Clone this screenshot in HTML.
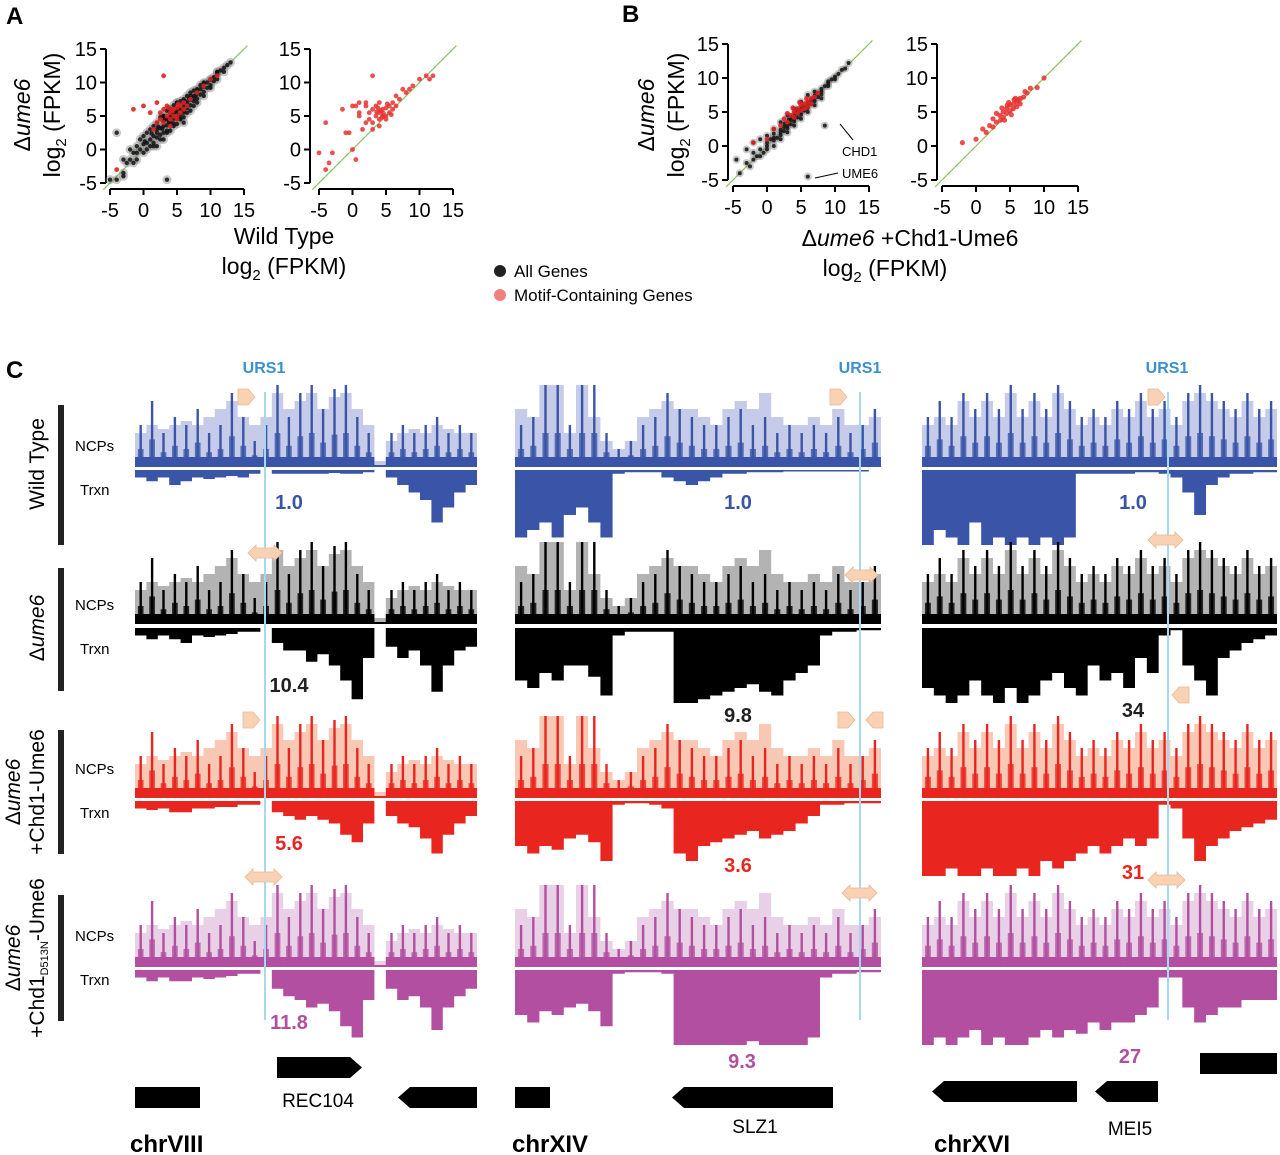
<!DOCTYPE html>
<html><head><meta charset="utf-8">
<style>
body{margin:0;background:#fff;}
svg{display:block;font-family:"Liberation Sans",Arial,sans-serif;}
</style></head>
<body>
<svg id="fig" width="1280" height="1155" viewBox="0 0 1280 1155">
<g id="static">
  <text x="6" y="24" font-size="24" font-weight="bold">A</text>
  <text x="622" y="22" font-size="24" font-weight="bold">B</text>
  <text x="6" y="378" font-size="24" font-weight="bold">C</text>

  <text transform="translate(30,115) rotate(-90)" font-size="23" text-anchor="middle">Δ<tspan font-style="italic">ume6</tspan></text>
  <text transform="translate(60,115) rotate(-90)" font-size="23" text-anchor="middle">log<tspan font-size="15" dy="6">2</tspan><tspan dy="-6"> (FPKM)</tspan></text>
  <text x="284" y="244" font-size="23" text-anchor="middle">Wild Type</text>
  <text x="284" y="274" font-size="23" text-anchor="middle">log<tspan font-size="15" dy="6">2</tspan><tspan dy="-6"> (FPKM)</tspan></text>

  <text transform="translate(654,115) rotate(-90)" font-size="23" text-anchor="middle">Δ<tspan font-style="italic">ume6</tspan></text>
  <text transform="translate(684,115) rotate(-90)" font-size="23" text-anchor="middle">log<tspan font-size="15" dy="6">2</tspan><tspan dy="-6"> (FPKM)</tspan></text>
  <text x="910" y="246" font-size="23" text-anchor="middle">Δ<tspan font-style="italic">ume6</tspan> +Chd1-Ume6</text>
  <text x="885" y="276" font-size="23" text-anchor="middle">log<tspan font-size="15" dy="6">2</tspan><tspan dy="-6"> (FPKM)</tspan></text>
  <line x1="840" y1="124" x2="853" y2="140" stroke="#000" stroke-width="1"/>
  <text x="842" y="156" font-size="13">CHD1</text>
  <line x1="815" y1="178" x2="838" y2="173" stroke="#000" stroke-width="1"/>
  <text x="842" y="178" font-size="13">UME6</text>

  <g>
    <circle cx="500" cy="271" r="6" fill="#222"/>
    <text x="514" y="277" font-size="17">All Genes</text>
    <circle cx="500" cy="295" r="6" fill="#f08080"/>
    <text x="514" y="301" font-size="17">Motif-Containing Genes</text>
  </g>

  <rect x="58" y="405" width="6" height="140" fill="#222"/>
  <rect x="58" y="568" width="6" height="123" fill="#222"/>
  <rect x="58" y="730" width="6" height="124" fill="#222"/>
  <rect x="58" y="895" width="6" height="126" fill="#222"/>
  <text transform="translate(44,464) rotate(-90)" font-size="21" text-anchor="middle">Wild Type</text>
  <text transform="translate(44,628) rotate(-90)" font-size="21" text-anchor="middle">Δ<tspan font-style="italic">ume6</tspan></text>
  <text transform="translate(20,792) rotate(-90)" font-size="21" text-anchor="middle">Δ<tspan font-style="italic">ume6</tspan></text>
  <text transform="translate(44,792) rotate(-90)" font-size="21" text-anchor="middle">+Chd1-Ume6</text>
  <text transform="translate(20,958) rotate(-90)" font-size="21" text-anchor="middle">Δ<tspan font-style="italic">ume6</tspan></text>
  <text transform="translate(44,958) rotate(-90)" font-size="21" text-anchor="middle">+Chd1<tspan font-size="11" dy="4">D513N</tspan><tspan dy="-4">-Ume6</tspan></text>
  <g font-size="15">
    <text x="75" y="451">NCPs</text><text x="80" y="495">Trxn</text>
    <text x="75" y="610">NCPs</text><text x="80" y="654">Trxn</text>
    <text x="75" y="774">NCPs</text><text x="80" y="818">Trxn</text>
    <text x="75" y="941">NCPs</text><text x="80" y="985">Trxn</text>
  </g>
  <g font-size="16" font-weight="bold" fill="#3b8fd0" text-anchor="middle">
    <text x="264" y="373">URS1</text><text x="860" y="373">URS1</text><text x="1167" y="373">URS1</text>
  </g>
</g>
<g id="scatters"></g>
<g id="tracks"></g>
<g id="overlay"></g>
</svg>
<script>
const allGenesA = [[-4,-4.5],[-3,-3.5],[-2.5,-2],[-2,-1.5],[-1.5,-2],[-1,-0.5],[-1,-1.5],[-0.5,0],[0,-0.5],[0,0.8],[0.5,1],[0.5,0],[1,1.5],[1,0.5],[1.5,2],[1.5,1],[2,2.5],[2,1.8],[2,3],[2.5,2.2],[2.5,3.2],[3,3.5],[3,2.5],[3,4.2],[3.5,3.6],[3.5,4.5],[3.5,2.8],[4,4.8],[4,3.8],[4,4.2],[4,5.5],[4.5,4.6],[4.5,5.2],[4.5,3.9],[5,5.4],[5,4.6],[5,6],[5,5],[5.5,6],[5.5,5.2],[5.5,4.6],[6,6.4],[6,5.5],[6,6.8],[6,5.8],[6.5,7],[6.5,6.2],[6.5,6.6],[7,7.4],[7,6.6],[7,8],[7.5,8],[7.5,7.2],[7.5,7.6],[8,8.4],[8,7.6],[8,8.8],[8.5,9],[8.5,8.2],[9,9.4],[9,8.6],[9,9.8],[9.5,10],[9.5,9.2],[10,10.4],[10,9.6],[10.5,10.8],[10.5,10.2],[11,11.2],[11,11.6],[11.5,11.8],[12,12.2],[12,11.6],[12.5,12.6],[13,13],[-3,-1.5],[-1,0.5],[0,2],[1,3],[2,4],[3,5],[4,6],[5,7],[6,7.5],[7,8.5],[8,9],[9,10],[10,10.5],[11,11.5],[1.5,0.5],[2.5,1.5],[3.5,2.5],[4.5,3.5],[5.5,4.5],[6.5,5.5],[7.5,6.5],[3,5],[4,6],[5,7],[6,4],[3.5,-4.5],[-4,2.5],[-3,-4],[-5,-4.5],[2.2,3.4],[3.2,4.6],[4.2,5.2],[5.2,6.2],[6.2,7.2],[2.8,3.1],[3.8,4.1],[4.8,5.8],[5.8,6.1],[6.8,7.6],[7.8,8.1],[1.2,2.4],[0.2,1.2],[-2,0],[-1.5,-0.5],[-0.5,1.5],[0.5,2.5],[1.5,3.5],[2.5,4.8],[3.5,5.8],[4.5,6.6],[5.5,7.2],[6.5,8],[7.5,8.8],[8.5,9.6],[2,0.5],[3,1.5],[4,2.8],[5,3.8],[6,4.8],[7,5.8],[8,7],[9,8],[10,9.2],[11,10.5]];
const motifA = [[-1.5,6],[0,6.5],[1,5.5],[2,7],[2.5,5.5],[3,6],[3.5,5],[3.5,6.5],[4,5.5],[4,4.5],[4.5,6],[4.5,5],[5,6.2],[5,5],[5.5,6.5],[5.5,5.5],[6,7],[6,6],[6.5,6.5],[7,7.5],[3,11],[2,4],[1.5,3],[4,3.5],[5,4.5],[8,8.5],[9,9.5],[10,10.5],[11,11],[-4,-3],[3,4],[2.5,4.5],[4.2,5.8],[3.8,6.2],[5.2,6.8],[-5,-0.5],[-4,4],[-3,-0.5],[-3.5,-2],[-1,2.5],[-0.5,2.5],[0.5,-1.5],[0,0],[1,7],[0.5,6.5],[4.6,5.4],[4.4,4.8],[3.6,5.6],[5.8,5.2],[6.5,8],[7.5,9],[8.5,9],[12,11],[11.5,10.5],[3,3],[4,7],[2,6.5],[1,5]];
const allGenesB = [[-4,-4],[-3,-2.5],[-2.5,-3],[-2,-1],[-1.5,-1.5],[-1,-0.5],[-0.5,-1],[0,0.5],[0,-0.5],[0.5,1],[1,0.8],[1,1.8],[1.5,1.2],[2,2.4],[2,1.6],[2.5,2.8],[2.5,2.2],[3,3.4],[3,2.6],[3.5,3.8],[3.5,3.2],[4,4.4],[4,3.6],[4.5,4.8],[4.5,4.2],[5,5.4],[5,4.6],[5.5,5.8],[5.5,5.2],[6,6.4],[6,5.6],[6.5,6.8],[6.5,6.2],[7,7.4],[7,6.6],[7.5,7.8],[7.5,7.2],[8,8.4],[8,7.6],[8.5,8.8],[9,9.2],[9,8.8],[9.5,9.8],[10,10.2],[10.5,10.6],[11,11.2],[11.5,11.4],[12,12.2],[-3,-0.5],[-2,0.5],[-1,1],[0,1.5],[1,2.5],[2,3.5],[3,4.5],[4,5.5],[5,6.5],[6,7.5],[7,8],[1,0],[2,1],[3,2],[4,3],[5,4],[6,5],[7,6],[8,7],[8.5,3],[6,-4.5],[-4.5,-2],[3.2,3.9],[4.2,4.9],[5.2,5.9],[2.6,3.3],[3.6,4.3],[4.6,5.3],[-2,-2],[-1,-1.5],[0,0],[1,1.2],[2,2],[3,3],[4,4],[5,5],[6,6],[7,7],[8,8],[9,9.5],[10,9.8]];
const motifB = [[-2,0.5],[0,1],[1,2.5],[2,3],[2.5,4],[3,3.5],[3.5,4.5],[4,5],[4,4.2],[4.5,5.5],[4.5,4.8],[5,6],[5,5.2],[5.5,6.2],[5.5,5.5],[6,6.5],[6,5.8],[6.5,7],[6.5,6.2],[7,7.2],[3.8,5.6],[4.8,6.4],[5.8,7],[3,4.8],[7.5,7.8],[8,8.5],[9,8.6],[10,10],[1.5,2],[2.5,2.8],[5.2,4.6],[4.2,3.8],[6.2,6.8],[5.6,6.8],[4.6,6],[3.6,3.8],[7.2,8]];
const axisTicks = [-5,0,5,10,15];
const tickLabels = ["-5","0","5","10","15"];

const ncpEnv1 = [.4,.5,.45,.5,.55,.5,.6,.7,.8,.6,.5,.6,.9,.7,.8,.9,.7,.85,.9,.7,.5,.05,.3,.4,.45,.4,.5,.45,.4,.4];
const ncpPeak1 = [.5,.8,.4,.6,.5,.7,.4,.5,.9,.6,.3,.5,1,.6,.9,1,.7,.95,1,.6,.4,0,.4,.5,.4,.5,.6,.4,.5,.4];
const ncpEnv2 = [.7,.6,1,1,.4,1,.6,.3,.2,.3,.6,.7,.8,.7,.7,.6,.5,.7,.8,.7,.9,.6,.5,.5,.6,.5,.7,.5,.5,.6];
const ncpPeak2 = [.5,.6,1,1,.5,1,1,.4,.2,.3,.5,.6,.9,.7,.6,.5,.5,.6,.7,.5,.6,.4,.5,.4,.5,.4,.6,.4,.5,.7];
const ncpEnv3 = [.5,.6,.5,.8,.6,.8,.6,.9,.6,.8,.6,.9,.7,.5,.6,.5,.7,.6,.8,.6,.7,.5,.8,.9,.8,.7,.6,.8,.6,.7];
const ncpPeak3 = [.6,.8,.6,.9,.7,.9,.7,1,.7,.9,.7,1,.8,.6,.7,.6,.8,.7,.9,.7,.8,.6,.9,1,.9,.8,.7,.9,.7,.8];
const trxnWT1 = [.1,.15,.1,.2,.15,.1,.12,.1,.08,.1,.05,0,.05,.05,.05,.05,.05,.04,.05,.05,.03,0,.1,.2,.3,.4,.7,.5,.3,.2];
const trxnUme1 = [.1,.15,.1,.15,.2,.1,.12,.1,.08,.05,.05,0,.2,.3,.3,.45,.35,.5,.7,.95,.4,0,.25,.4,.3,.5,.85,.5,.3,.25];
const trxnChd1 = [.1,.12,.1,.15,.15,.1,.1,.08,.08,.05,.05,0,.15,.2,.25,.2,.25,.3,.45,.55,.3,0,.2,.3,.35,.5,.7,.45,.3,.2];
const trxnMut1 = [.1,.15,.1,.15,.15,.1,.12,.1,.08,.05,.05,0,.25,.35,.4,.5,.45,.55,.75,.9,.4,0,.25,.4,.35,.5,.8,.5,.35,.25];
const trxnWT2 = [.9,.8,.7,.9,.6,.5,.7,.9,.05,.03,.03,.03,.1,.15,.2,.15,.1,.05,.05,.03,.03,.03,.02,.02,.02,.02,.02,.02,.02,0];
const trxnUme2 = [.7,.8,.6,.7,.5,.5,.65,.9,.1,.05,.05,.05,.05,1,1,.95,.9,.85,.8,.75,.85,.9,.7,.6,.5,.1,.05,.05,.03,.03];
const trxnChd2 = [.6,.7,.6,.65,.5,.45,.55,.8,.05,.03,.03,.05,.1,.7,.8,.6,.55,.5,.45,.4,.5,.45,.4,.3,.2,.05,.05,.03,.03,.03];
const trxnMut2 = [.6,.7,.55,.6,.5,.45,.55,.75,.05,.03,.03,.03,.05,1,1,1,1,1,1,.95,1,1,1,1,.9,.1,.05,.05,.03,.03];
const trxnWT3 = [1,.8,.9,1,.7,1,.9,1,.9,1,.9,1,.9,.05,.05,.05,.05,.05,.03,.03,.05,.1,.3,.6,.2,.1,.05,.05,.03,.03];
const trxnUme3 = [.8,.9,1,.9,.7,.9,1,.8,1,.9,.7,.6,.8,.9,.5,.7,.6,.8,.4,.6,.1,.03,.5,.7,.9,.4,.3,.2,.15,.1];
const trxnChd3 = [1,1,.9,1,1,.9,1,1,.9,1,.8,.9,.8,.7,.6,.7,.6,.5,.6,.5,.05,.1,.5,.8,.6,.5,.4,.35,.3,.25];
const trxnMut3 = [1,.9,1,.9,.8,1,.9,1,1,.9,.8,.9,.8,.85,.7,.8,.7,.7,.6,.5,.1,.1,.5,.7,.6,.5,.5,.4,.4,.4];
const foldValues = [["1.0","1.0","1.0"],["10.4","9.8","34"],["5.6","3.6","31"],["11.8","9.3","27"]];

const NS = "http://www.w3.org/2000/svg";
function mk(tag, attrs, parent){ const e=document.createElementNS(NS,tag); for(const k in attrs) e.setAttribute(k,attrs[k]); parent.appendChild(e); return e; }

const scat = document.getElementById('scatters');
function scatter(name, x0, y0, sc, spineX, spineY, layers){
  const g = mk('g',{},scat);
  
  
  const X = v => x0 + (v+5)*sc, Y = v => y0 - (v+5)*sc;
  const ax = mk('path',{d:`M${spineX},${Y(15)}V${Y(-5)} M${X(-5)},${spineY}H${X(15)}`,stroke:'#000','stroke-width':2,fill:'none'},g);
  
  
  axisTicks.forEach((t,i)=>{
    mk('line',{x1:spineX-6,x2:spineX,y1:Y(t),y2:Y(t),stroke:'#000','stroke-width':2},g);
    mk('line',{x1:X(t),x2:X(t),y1:spineY,y2:spineY+6,stroke:'#000','stroke-width':2},g);
    const ty = mk('text',{x:spineX-9,y:Y(t)+7,'font-size':20,'text-anchor':'end'},g);
    ty.textContent = tickLabels[i];
    
    
    const tx = mk('text',{x:X(t),y:spineY+28,'font-size':20,'text-anchor':'middle'},g);
    tx.textContent = tickLabels[i];
    
    
  });
  const diag = mk('line',{x1:X(-6),y1:Y(-6),x2:X(15.5),y2:Y(15.5),stroke:'#8cc263','stroke-width':1.2},g);
  
  
  layers.forEach(L=>{
    L.data.forEach(p=>{
      const c = mk('circle',{cx:X(p[0]),cy:Y(p[1]),r:L.r,fill:L.color,'fill-opacity':L.op},g);
      
      
    });
  });
}
scatter('scatter-a-all', 110, 183, 6.7, 106, 189, [
  {data:allGenesA,color:'#888',r:4.5,op:0.45,name:'point-all-genes'},
  {data:allGenesA,color:'#111',r:2.2,op:0.85,name:'point-all-genes'},
  {data:motifA.slice(0,35),color:'#e02020',r:2.4,op:0.9,name:'point-motif-gene'}]);
scatter('scatter-a-motif', 319, 183, 6.7, 310, 189, [
  {data:motifA,color:'#e83030',r:2.4,op:0.85,name:'point-motif-gene'}]);
scatter('scatter-b-all', 733, 180, 6.8, 728, 186, [
  {data:allGenesB,color:'#888',r:4,op:0.45,name:'point-all-genes'},
  {data:allGenesB,color:'#111',r:2,op:0.85,name:'point-all-genes'},
  {data:motifB.slice(0,25),color:'#e02020',r:2.4,op:0.9,name:'point-motif-gene'}]);
scatter('scatter-b-motif', 942, 180, 6.8, 937, 186, [
  {data:motifB,color:'#e83030',r:2.6,op:0.85,name:'point-motif-gene'}]);

const tracks = document.getElementById('tracks');
const cols = [{x:135,w:342,env:ncpEnv1,pk:ncpPeak1,name:'chrVIII'},{x:515,w:366,env:ncpEnv2,pk:ncpPeak2,name:'chrXIV'},{x:922,w:355,env:ncpEnv3,pk:ncpPeak3,name:'chrXVI'}];
const rows = [
  {base:465,tt:470,light:'#c5cbe8',dark:'#3a55a8',trxn:[trxnWT1,trxnWT2,trxnWT3],name:'wild-type'},
  {base:622,tt:628,light:'#b3b3b3',dark:'#000',trxn:[trxnUme1,trxnUme2,trxnUme3],name:'ume6'},
  {base:796,tt:801,light:'#f9c8b4',dark:'#e8251f',trxn:[trxnChd1,trxnChd2,trxnChd3],name:'chd1-ume6'},
  {base:965,tt:970,light:'#e8d0e6',dark:'#b24fa0',trxn:[trxnMut1,trxnMut2,trxnMut3],name:'chd1d513n-ume6'}];
const H = 80, TH = 75;
function stepPath(x0,w,vals,base,sign,h){
  const n=vals.length, bw=w/n; let d=`M${x0},${base}`;
  vals.forEach((v,i)=>{ const y=base+sign*v*h; d+=`L${x0+i*bw},${y}L${x0+(i+1)*bw},${y}`; });
  return d+`L${x0+w},${base}Z`;
}
rows.forEach((r,ri)=>{
  cols.forEach((c,ci)=>{
    const g = mk('g',{},tracks);
    
    
    const env = mk('path',{d:stepPath(c.x,c.w,c.env,r.base,-1,H),fill:r.light},g);
    
    
    const n=c.pk.length, bw=c.w/n;
    const baseBand = mk('path',{d:stepPath(c.x,c.w,c.env.map(v=>v>0.1?0.1:0),r.base,-1,H),fill:r.dark},g);
    
    
    c.pk.forEach((v,i)=>{
      if(v<=0) return;
      const cx=c.x+(i+0.5)*bw;
      const b = mk('rect',{x:cx-1.2,y:r.base-v*H,width:2.4,height:v*H,fill:r.dark},g);
      
      
      const b2 = mk('rect',{x:cx-bw*0.25,y:r.base-v*H*0.4,width:bw*0.5,height:v*H*0.4,fill:r.dark,'fill-opacity':0.8},g);
      
      
    });
    const base = mk('rect',{x:c.x,y:r.base,width:c.w,height:2,fill:r.dark},g);
    
    
    const tr = mk('path',{d:stepPath(c.x,c.w,r.trxn[ci],r.tt,1,TH),fill:r.dark},g);
    
    
  });
});

const ov = document.getElementById('overlay');
[265,860,1168].forEach(x=>{
  const l = mk('line',{x1:x,x2:x,y1:392,y2:1020,stroke:'#a8d8f0','stroke-width':2},ov);
  
  
});
function arrowR(x,y){ return `M${x},${y-8}H${x+10}L${x+17},${y}L${x+10},${y+8}H${x}Z`; }
function arrowL(x,y){ return `M${x+17},${y-8}H${x+7}L${x},${y}L${x+7},${y+8}H${x+17}Z`; }
function arrowD(x,y,w){ return `M${x},${y}L${x+8},${y-8}V${y-5}H${x+w-8}V${y-8}L${x+w},${y}L${x+w-8},${y+8}V${y+5}H${x+8}V${y+8}Z`; }
const arrows = [arrowR(238,397),arrowR(830,397),arrowR(1148,397),arrowD(248,553,34),arrowD(845,575,33),arrowD(1148,540,35),
  arrowR(243,720),arrowR(838,720),arrowL(866,720),arrowL(1172,695),arrowD(245,877,37),arrowD(842,893,35),arrowD(1148,880,37)];
arrows.forEach(d=>{
  const a = mk('path',{d:d,fill:'#f9d2b4',stroke:'#e6b894','stroke-width':0.8},ov);
  
  
});
const valPos = [[[289,509],[738,509],[1133,509]],[[289,692],[738,722],[1133,717]],[[289,850],[738,872],[1133,879]],[[289,1029],[742,1068],[1130,1063]]];
const valColor = ['#3a55a8','#222','#e8251f','#b24fa0'];
foldValues.forEach((row,ri)=>row.forEach((v,ci)=>{
  const t = mk('text',{x:valPos[ri][ci][0],y:valPos[ri][ci][1],'font-size':20,'font-weight':'bold','text-anchor':'middle',fill:valColor[ri]},ov);
  t.textContent = v;
  
  
}));
function geneR(x,y,w){ return `M${x},${y}H${x+w-12}L${x+w},${y+10.5}L${x+w-12},${y+21}H${x}Z`; }
function geneL(x,y,w){ return `M${x+w},${y}H${x+12}L${x},${y+10.5}L${x+12},${y+21}H${x+w}Z`; }
function box(x,y,w){ return `M${x},${y}H${x+w}V${y+21}H${x}Z`; }
[box(135,1087,65),geneR(277,1057,85),geneL(398,1087,79),box(515,1087,35),geneL(672,1087,161),geneL(932,1081,145),geneL(1095,1081,63),box(1200,1053,77)].forEach(d=>{
  const gshape = mk('path',{d:d,fill:'#000'},ov);
  
  
});
[["REC104",318,1107],["SLZ1",755,1133],["MEI5",1130,1135]].forEach(a=>{
  const t = mk('text',{x:a[1],y:a[2],'font-size':19,'text-anchor':'middle'},ov);
  t.textContent = a[0];
  
  
});
[["chrVIII",130],["chrXIV",512],["chrXVI",934]].forEach(a=>{
  const t = mk('text',{x:a[1],y:1152,'font-size':24,'font-weight':'bold'},ov);
  t.textContent = a[0];
  
  
});
</script>
</body></html>
